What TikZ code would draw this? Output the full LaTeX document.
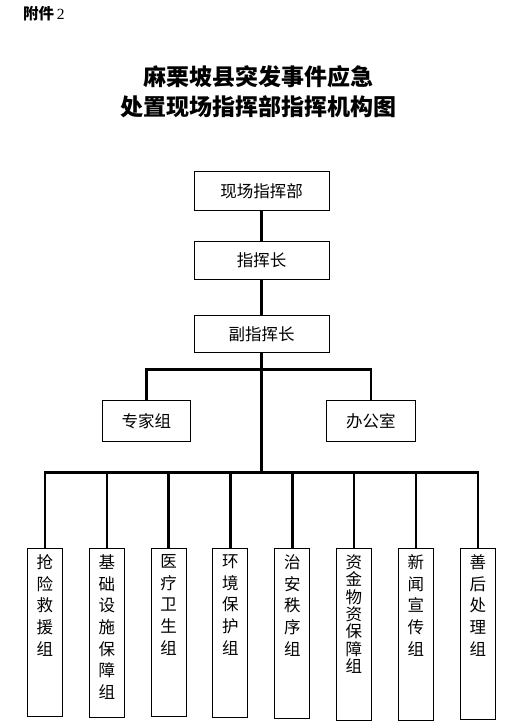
\documentclass[tikz,border=0pt]{standalone}
\usepackage{fontspec}
\setmainfont{Liberation Serif}
\newfontfamily\cjk{Noto Sans CJK SC}
\usetikzlibrary{calc}
\tikzset{
  unitbox/.style={draw,line width=1pt,inner sep=0pt,font=\cjk\fontsize{16.5}{16.5}\selectfont},
  groupbox/.style={draw,line width=1pt,inner sep=0pt,minimum width=35pt,anchor=north},
  link/.style={line width=2.6pt}
}
\begin{document}
\begin{tikzpicture}[x=1pt,y=-1pt]
\useasboundingbox (0,0) rectangle (513,726);
\node[font=\cjk\bfseries\fontsize{15.5}{15.5}\selectfont,anchor=west,inner sep=0pt] (annex) at (23,14) {附件\,{\rmfamily\mdseries 2}};
\node[font=\cjk\bfseries\fontsize{23}{30}\selectfont,align=center,inner sep=0pt] (title) at (258,92) {麻栗坡县突发事件应急\\处置现场指挥部指挥机构图};
\node[unitbox,minimum width=135pt,minimum height=39pt] (post) at (261.5,190.8) {现场指挥部};
\node[unitbox,minimum width=135pt,minimum height=38pt] (chief) at (261.5,260) {指挥长};
\node[unitbox,minimum width=135pt,minimum height=37pt] (deputy) at (261.5,333.8) {副指挥长};
\node[unitbox,minimum width=88pt,minimum height=41pt] (expert) at (146.3,420.8) {专家组};
\node[unitbox,minimum width=89pt,minimum height=41pt] (office) at (370.8,420.8) {办公室};
\foreach \n/\x/\h/\s/\t in {g1/44.8/167.7/21.7/抢\\险\\救\\援\\组,
    g2/106.8/169/21.7/基\\础\\设\\施\\保\\障\\组,
    g3/168.7/167.7/21.7/医\\疗\\卫\\生\\组,
    g4/230.3/168.7/21.7/环\\境\\保\\护\\组,
    g5/292.3/169.7/21.7/治\\安\\秩\\序\\组,
    g6/353.8/171.7/17.4/资\\金\\物\\资\\保\\障\\组,
    g7/415.8/171.7/21.7/新\\闻\\宣\\传\\组,
    g8/477.8/171/21.7/善\\后\\处\\理\\组}{
  \node[groupbox,minimum height=\h pt] (\n) at (\x,548.3) {};
  \node[anchor=north,inner sep=0pt,align=center,font=\cjk\fontsize{16.5}{\s}\selectfont] (\n-text) at ($(\n.north)+(0,6)$) {\t};
}
\coordinate (split) at (261.5,369.7);
\coordinate (bus) at (261.5,472.7);
\draw[link] (post) -- (chief);
\draw[link] (chief) -- (deputy);
\draw[link] (deputy) -- (bus);
\draw[link] (expert) -- (expert |- split) -| (office);
\draw[link] (g1) -- (g1 |- bus) -| (g8);
\foreach \n in {g2,g3,g4,g5,g6,g7}
  \draw[link] (\n) -- (\n |- bus);
\end{tikzpicture}
\end{document}
